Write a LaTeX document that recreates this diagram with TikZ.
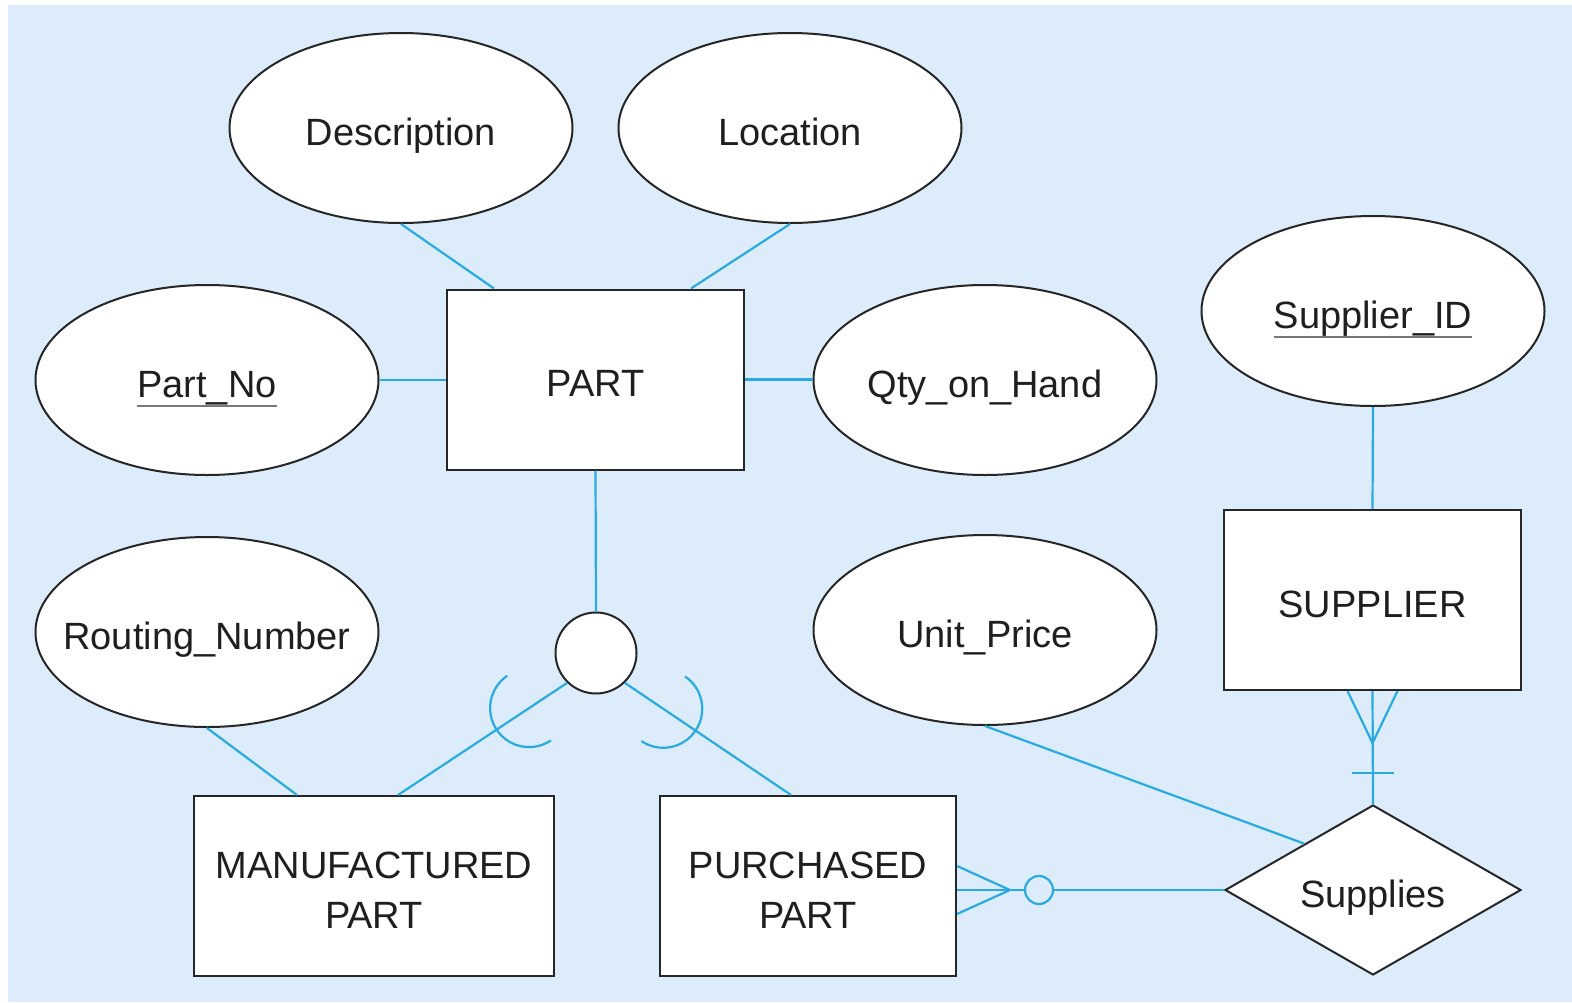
\documentclass[tikz,border=0pt]{standalone}
\usepackage{fontspec}
\setmainfont{Liberation Sans}
\usetikzlibrary{shapes.geometric,calc}
\definecolor{bgblue}{RGB}{220,236,250}
\definecolor{linkblue}{RGB}{41,171,226}
\definecolor{ulgray}{RGB}{120,120,120}
\begin{document}
\begin{tikzpicture}[x=1pt,y=-1pt,
  every node/.style={font=\fontsize{38}{50}\selectfont, text=black!88,
    text height=34pt, text depth=0pt},
  attr/.style={ellipse, draw=black!85, line width=2pt, fill=white,
    minimum width=343, minimum height=190, inner ysep=0pt, inner xsep=-70pt},
  entity/.style={rectangle, draw=black!85, line width=2pt, fill=white,
    minimum width=297, minimum height=180, inner sep=0pt, align=center},
  twoline/.style={text height=84pt, text depth=0pt},
  rel/.style={diamond, draw=black!85, line width=2pt, fill=white,
    shape aspect=1.74, minimum width=296, minimum height=170, inner sep=0pt},
  link/.style={draw=linkblue, line width=2.2pt},
  keyline/.style={draw=ulgray, line width=2.2pt},
]
\useasboundingbox (0,0) rectangle (1572,1002);
\fill[bgblue] (8,5) rectangle (1572,1002);

% attributes
\node[attr] (desc)   at (401,128) {Description};
\node[attr] (loc)    at (790,128) {Location};
\node[attr] (pno)    at (207,380) {};
\node[attr] (qty)    at (985,380) {Qty\_on\_Hand};
\node[attr] (sid)    at (1373,311) {};
\node[attr] (rout)   at (207,632) {Routing\_Number};
\node[attr] (uprice) at (985,630) {Unit\_Price};

% key attribute labels with underline
\node[inner sep=0pt] (pnot) at (207,380) {Part\_No};
\draw[keyline] ($(pnot.base west)+(0,9)$) -- ($(pnot.base east)+(0,9)$);
\node[inner sep=0pt] (sidt) at (1373,311) {Supplier\_ID};
\draw[keyline] ($(sidt.base west)+(0,9)$) -- ($(sidt.base east)+(0,9)$);

% entities
\node[entity] (part)  at (595.5,379.5) {PART};
\node[entity] (supp)  at (1372.5,600) {SUPPLIER};
\node[entity, twoline, minimum width=360] (mpart) at (374,886) {MANUFACTURED\\PART};
\node[entity, twoline, minimum width=296] (ppart) at (808,886) {PURCHASED\\PART};

% relationship and subtype circle
\node[rel] (supplies) at (1373,890) {Supplies};
\node[circle, draw=black!85, line width=2pt, fill=white,
  minimum size=81, inner sep=0pt] (dcirc) at (596,653) {};

% attribute connectors
\draw[link] (desc.south) -- ($(part.north west)+(48,0)$);
\draw[link] (loc.south) -- ($(part.north west)+(245,0)$);
\draw[link] (pno.east) -- (pno.east -| part.west);
\draw[link] (part.east) -- (part.east -| qty.west);
\draw[link] (rout.south) -- ($(mpart.north west)+(104,0)$);
\draw[link] (sid.south) -- (supp.north);
\draw[link] (uprice.south) -- (supplies.146);

% subtype connectors with subset arcs
\draw[link] (part.south) -- (dcirc.north);
\draw[link] (dcirc.226) -- coordinate[pos=0.225] (larc)
  ($(mpart.north west)+(205,0)$);
\draw[link] (dcirc.314) -- coordinate[pos=0.231] (rarc)
  ($(ppart.north west)+(132,0)$);
\draw[link] (larc) ++(56:39) arc[start angle=56, end angle=236, radius=39];
\draw[link] (rarc) ++(-56:39) arc[start angle=-56, end angle=124, radius=39];

% SUPPLIER to Supplies: one mandatory, many
\draw[link] (supp.south) -- (supplies.north);
\draw[link] ($(supp.south)+(-25,0)$) -- ($(supp.south)+(0,52)$)
  -- ($(supp.south)+(25,0)$);
\draw[link] ($(supp.south)+(-21,82)$) -- ($(supp.south)+(21,82)$);

% PURCHASED PART to Supplies: zero or many
\coordinate (pend) at (ppart.east |- supplies.west);
\draw[link] (pend) -- (supplies.west);
\draw[link] ($(pend)+(0,-24)$) -- ($(pend)+(53,0)$) -- ($(pend)+(0,24)$);
\draw[link, fill=bgblue] ($(pend)+(82,0)$) circle[radius=14];
\end{tikzpicture}
\end{document}
